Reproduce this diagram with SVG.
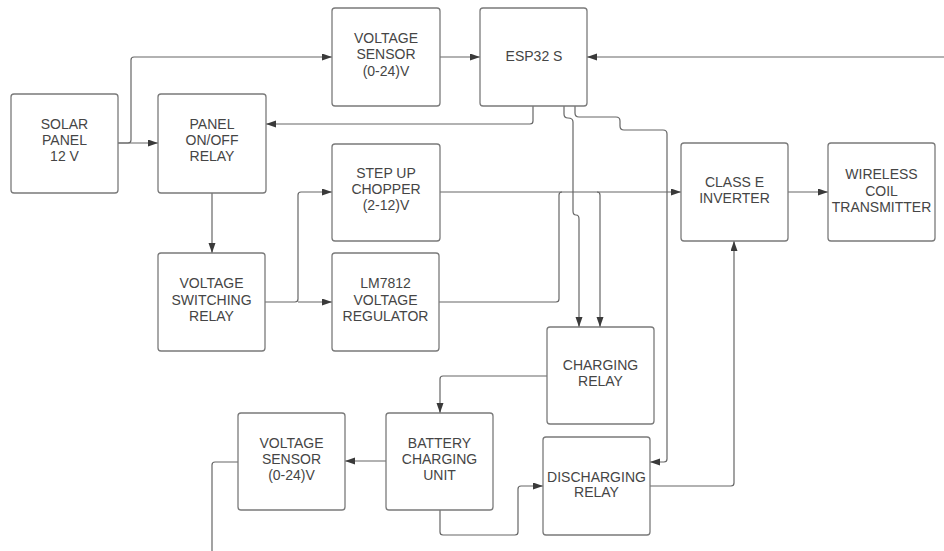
<svg xmlns="http://www.w3.org/2000/svg" width="944" height="551" viewBox="0 0 944 551">
<style>
.box{fill:#fff;stroke:#7a7a7a;stroke-width:1.3}
.t{font-family:"Liberation Sans",Arial,sans-serif;font-size:14px;fill:#454545;text-anchor:middle}
.c{fill:none;stroke:#666;stroke-width:1.2;stroke-linejoin:round}
.a{marker-end:url(#ah)}
</style>
<defs>
<marker id="ah" markerUnits="userSpaceOnUse" markerWidth="11" markerHeight="8" refX="10" refY="3.5" orient="auto">
<path d="M0,0 L10,3.5 L0,7 z" fill="#3a3a3a"/>
</marker>
</defs>
<rect width="944" height="551" fill="#fff"/>
<g id="connectors">
<path class="c a" d="M118,143 H158"/>
<path class="c a" d="M118,143 H128 Q131,143 131,140 V60 Q131,57 134,57 H332"/>
<path class="c a" d="M440,57 H480"/>
<path class="c a" d="M944,57 H587"/>
<path class="c a" d="M533,106 V121 Q533,124 530,124 H266"/>
<path class="c a" d="M212,193 V253"/>
<path class="c a" d="M265,302 H295 Q298,302 298,299 V195 Q298,192 301,192 H332"/>
<path class="c a" d="M298,302 H332"/>
<path class="c a" d="M440,192 H681"/>
<path class="c" d="M439,302 H556 Q559,302 559,299 V195 Q559,192 562,192"/>
<path class="c a" d="M597,192 Q600,192 600,195 V327"/>
<path class="c a" d="M564,106 V114 Q564,118 568,118 Q573,118 573,122 V211 Q573,215 576,215 Q579,215 579,219 V327"/>
<path class="c a" d="M575,106 V113 Q575,117 579,117 H616 Q620,117 620,121 V126 Q620,130 624,130 H663 Q667,130 667,134 V459 Q667,462 664,462 H650"/>
<path class="c a" d="M547,376 H443 Q440,376 440,379 V413"/>
<path class="c a" d="M386,461 H345"/>
<path class="c a" d="M440,510 V532 Q440,535 443,535 H515 Q518,535 518,532 V489 Q518,486 521,486 H543"/>
<path class="c a" d="M650,486 H731 Q734,486 734,483 V241"/>
<path class="c a" d="M788,192 H828"/>
<path class="c" d="M238,462 H215 Q212,462 212,465 V551"/>
</g>
<g id="solar"><rect class="box" x="11" y="94" width="107" height="99" rx="3"/><text class="t" x="64.5" y="129">SOLAR</text><text class="t" x="64.5" y="145">PANEL</text><text class="t" x="64.5" y="161">12 V</text></g>
<g id="panelrelay"><rect class="box" x="158" y="94" width="108" height="99" rx="3"/><text class="t" x="212" y="129">PANEL</text><text class="t" x="212" y="145">ON/OFF</text><text class="t" x="212" y="161">RELAY</text></g>
<g id="vsensor1"><rect class="box" x="332" y="8" width="108" height="98" rx="3"/><text class="t" x="386" y="43">VOLTAGE</text><text class="t" x="386" y="59">SENSOR</text><text class="t" x="386" y="76">(0-24)V</text></g>
<g id="esp32"><rect class="box" x="480" y="8" width="107" height="98" rx="3"/><text class="t" x="534" y="61">ESP32 S</text></g>
<g id="stepup"><rect class="box" x="332" y="144" width="108" height="97" rx="3"/><text class="t" x="386" y="178">STEP UP</text><text class="t" x="386" y="194">CHOPPER</text><text class="t" x="386" y="210">(2-12)V</text></g>
<g id="lm7812"><rect class="box" x="332" y="253" width="107" height="98" rx="3"/><text class="t" x="385.5" y="288">LM7812</text><text class="t" x="385.5" y="305">VOLTAGE</text><text class="t" x="385.5" y="321">REGULATOR</text></g>
<g id="vswitch"><rect class="box" x="158" y="253" width="107" height="98" rx="3"/><text class="t" x="211.5" y="288">VOLTAGE</text><text class="t" x="211.5" y="305">SWITCHING</text><text class="t" x="211.5" y="321">RELAY</text></g>
<g id="classe"><rect class="box" x="681" y="143" width="107" height="98" rx="3"/><text class="t" x="734.5" y="187">CLASS E</text><text class="t" x="734.5" y="203">INVERTER</text></g>
<g id="wireless"><rect class="box" x="828" y="143" width="107" height="98" rx="3"/><text class="t" x="881.5" y="179">WIRELESS</text><text class="t" x="881.5" y="196">COIL</text><text class="t" x="881.5" y="212">TRANSMITTER</text></g>
<g id="charging"><rect class="box" x="547" y="327" width="107" height="97" rx="3"/><text class="t" x="600.5" y="370">CHARGING</text><text class="t" x="600.5" y="386">RELAY</text></g>
<g id="discharging"><rect class="box" x="543" y="437" width="107" height="98" rx="3"/><text class="t" x="596.5" y="482">DISCHARGING</text><text class="t" x="596.5" y="497">RELAY</text></g>
<g id="battery"><rect class="box" x="386" y="413" width="107" height="97" rx="3"/><text class="t" x="439.5" y="448">BATTERY</text><text class="t" x="439.5" y="464">CHARGING</text><text class="t" x="439.5" y="480">UNIT</text></g>
<g id="vsensor2"><rect class="box" x="238" y="413" width="107" height="97" rx="3"/><text class="t" x="291.5" y="448">VOLTAGE</text><text class="t" x="291.5" y="464">SENSOR</text><text class="t" x="291.5" y="480">(0-24)V</text></g>
</svg>
